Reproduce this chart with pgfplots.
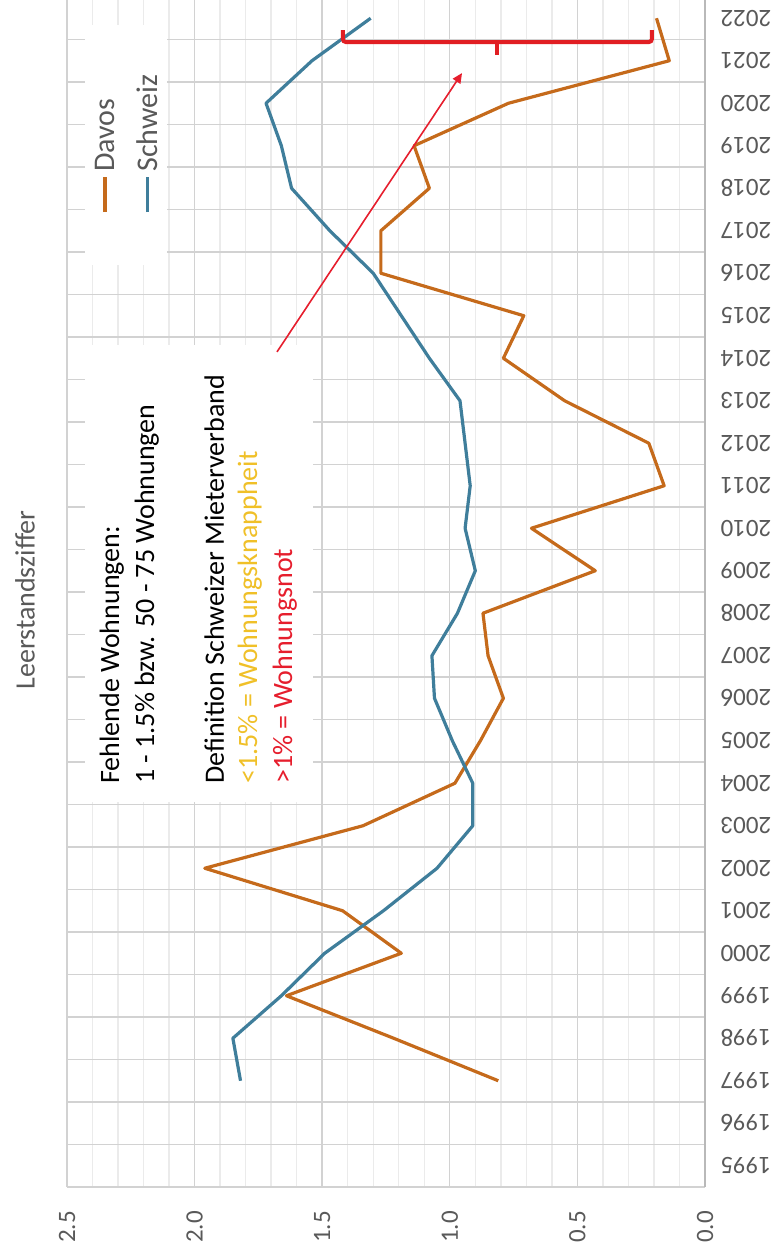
\documentclass[border=0pt]{standalone}
\usepackage{fontspec}
\setmainfont{Carlito}
\usepackage{pgfplots}
\pgfplotsset{compat=1.18}
\usetikzlibrary{arrows.meta}
\definecolor{davos}{RGB}{197,106,27}
\definecolor{schweiz}{RGB}{63,126,155}
\definecolor{txtgray}{RGB}{89,89,89}
\definecolor{gridmaj}{RGB}{210,210,210}
\definecolor{gridmin}{RGB}{235,235,235}
\definecolor{knapp}{RGB}{240,192,40}
\definecolor{notred}{RGB}{230,30,45}
\definecolor{brred}{RGB}{225,30,35}

\begin{document}
\begin{tikzpicture}
\begin{axis}[
  at={(33.5pt,33.5pt)}, anchor=south west,
  scale only axis, width=319pt, height=595pt,
  xmin=0, xmax=2.5, x dir=reverse,
  ymin=1994.5, ymax=2022.5,
  xtick={0,0.5,...,2.5}, minor x tick num=4,
  ytick={1995,...,2022},
  extra y ticks={1994.5,1995.5,...,2022.5},
  extra y tick labels={},
  extra y tick style={grid=major},
  xmajorgrids, xminorgrids,
  major grid style={gridmaj, line width=0.7pt},
  minor grid style={gridmin, line width=0.7pt},
  major tick length=0pt, minor tick length=0pt,
  axis line style={draw=none},
  tick label style={font=\fontsize{12.5}{14}\selectfont, text=txtgray},
  /pgf/number format/assume math mode=true,
  xticklabel style={rotate=90, anchor=center, /pgf/number format/.cd, fixed, fixed zerofill, precision=1},
  xticklabel shift=20pt,
  yticklabel pos=right,
  yticklabel style={rotate=180, anchor=center, /pgf/number format/.cd, 1000 sep={}},
  yticklabel shift=20.5pt,
  no markers,
  clip=false,
]
% white boxes behind text and legend
\fill[white] (axis cs:2.43,2003.55) rectangle (axis cs:1.536,2014.31);
\fill[white] (axis cs:2.43,2016.19) rectangle (axis cs:2.108,2021.84);
\draw[gray!55, line width=0.8pt] (axis cs:0,1994.5) -- (axis cs:0,2022.5);

\addplot[davos, line width=1.6pt, line join=round] coordinates {
(0.81,1997) (1.22,1998) (1.64,1999) (1.19,2000) (1.42,2001) (1.96,2002)
(1.34,2003) (0.98,2004) (0.88,2005) (0.79,2006) (0.85,2007) (0.87,2008)
(0.43,2009) (0.68,2010) (0.16,2011) (0.22,2012) (0.55,2013) (0.79,2014)
(0.71,2015) (1.27,2016) (1.27,2017) (1.08,2018) (1.14,2019) (0.77,2020)
(0.14,2021) (0.19,2022)};

\addplot[schweiz, line width=1.6pt, line join=round] coordinates {
(1.82,1997) (1.85,1998) (1.66,1999) (1.49,2000) (1.26,2001) (1.05,2002)
(0.91,2003) (0.91,2004) (0.99,2005) (1.06,2006) (1.07,2007) (0.97,2008)
(0.90,2009) (0.94,2010) (0.92,2011) (0.94,2012) (0.96,2013) (1.08,2014)
(1.19,2015) (1.30,2016) (1.47,2017) (1.62,2018) (1.66,2019) (1.72,2020)
(1.54,2021) (1.31,2022)};

% legend
\draw[davos, line width=1.6pt] (axis cs:2.351,2017.44) -- (axis cs:2.351,2018.26);
\node[rotate=90, anchor=base west, inner sep=0pt, font=\fontsize{15}{18}\selectfont, text=txtgray] at (axis cs:2.312,2018.38) {Davos};
\draw[schweiz, line width=1.6pt] (axis cs:2.186,2017.44) -- (axis cs:2.186,2018.26);
\node[rotate=90, anchor=base west, inner sep=0pt, font=\fontsize{15}{18}\selectfont, text=txtgray] at (axis cs:2.147,2018.38) {Schweiz};

% annotation text
\node[rotate=90, anchor=base west, inner sep=0pt, font=\fontsize{14}{17}\selectfont] at (axis cs:2.296,2003.98) {Fehlende Wohnungen:};
\node[rotate=90, anchor=base west, inner sep=0pt, font=\fontsize{14}{17}\selectfont] at (axis cs:2.159,2003.98) {1 - 1.5\% bzw. 50 - 75 Wohnungen};
\node[rotate=90, anchor=base west, inner sep=0pt, font=\fontsize{14}{17}\selectfont] at (axis cs:1.885,2003.98) {Definition Schweizer Mieterverband};
\node[rotate=90, anchor=base west, inner sep=0pt, font=\fontsize{14}{17}\selectfont, text=knapp] at (axis cs:1.755,2003.98) {<1.5\% = Wohnungsknappheit};
\node[rotate=90, anchor=base west, inner sep=0pt, font=\fontsize{14}{17}\selectfont, text=notred] at (axis cs:1.618,2003.98) {>1\% = Wohnungsnot};

% arrow
\draw[notred, line width=0.8pt, -{Triangle[length=5pt,width=4.5pt]}] (axis cs:1.677,2014.15) -- (axis cs:0.952,2020.71);
% bracket
\draw[brred, line width=2pt, rounded corners=1.5pt] (axis cs:1.419,2021.72) -- (axis cs:1.419,2021.44) -- (axis cs:0.208,2021.44) -- (axis cs:0.208,2021.72);
\draw[brred, line width=2pt] (axis cs:0.815,2021.44) -- (axis cs:0.815,2021.13);
\end{axis}
\node[rotate=90, font=\fontsize{14}{17}\selectfont, text=txtgray] at (12.5pt,327pt) {Leerstandsziffer};
\pgfresetboundingbox
\path[use as bounding box] (0,0) rectangle (386.5pt,627pt);
\end{tikzpicture}
\end{document}
